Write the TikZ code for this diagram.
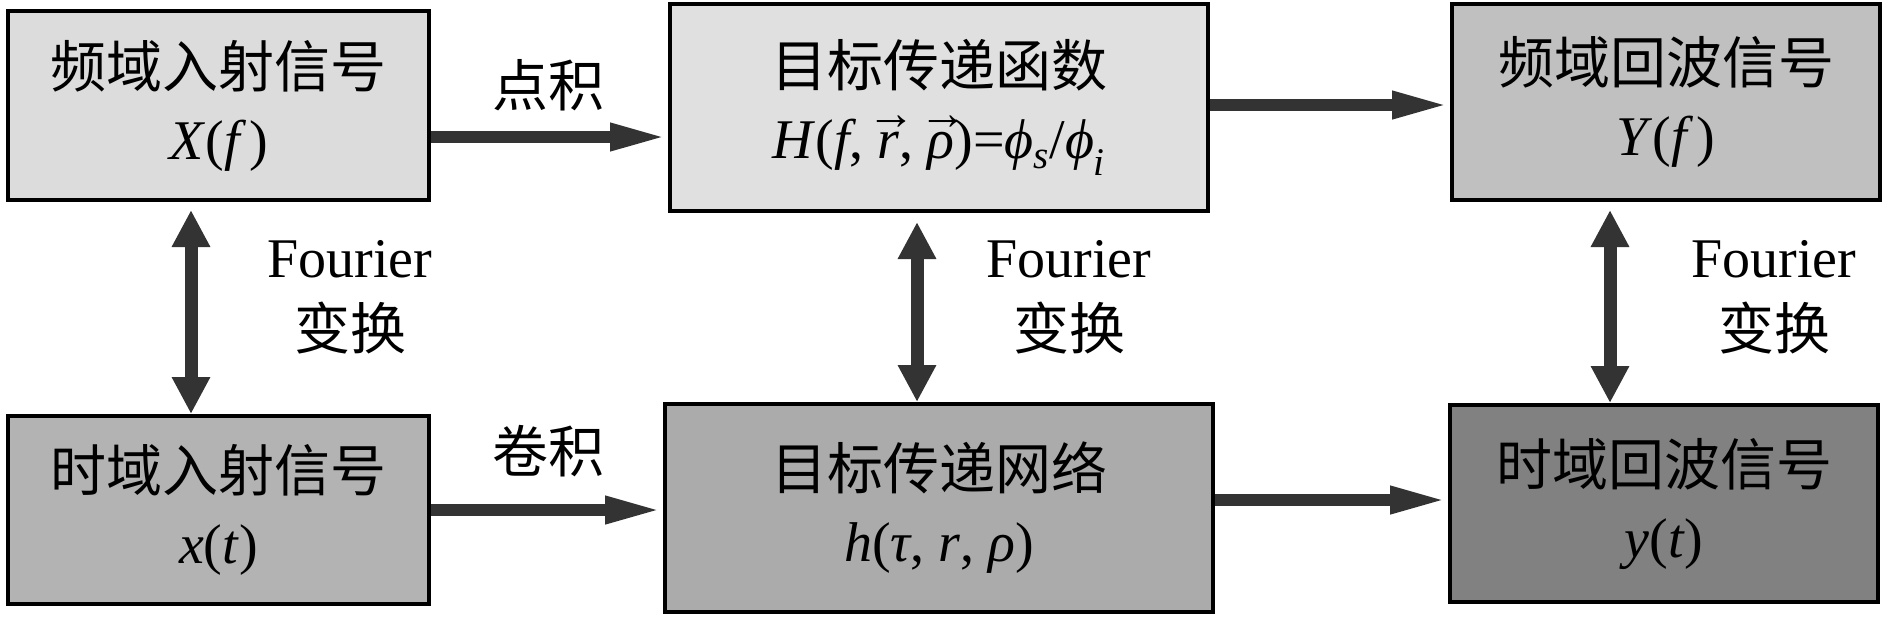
\documentclass[tikz,border=0pt]{standalone}
\usepackage{fontspec}
\setmainfont{Liberation Serif}
\newfontfamily\cjk{Noto Sans CJK SC}
\usetikzlibrary{arrows.meta,calc}
\definecolor{cA}{HTML}{DCDCDC}
\definecolor{cB}{HTML}{E0E0E0}
\definecolor{cC}{HTML}{C0C0C0}
\definecolor{cD}{HTML}{B3B3B3}
\definecolor{cE}{HTML}{ABABAB}
\definecolor{cF}{HTML}{818181}
\definecolor{arrgray}{HTML}{333333}
\newcommand\vecover[1]{\setbox0=\hbox{#1}\rlap{\hbox to \wd0{\hss\kern5pt\raisebox{29pt}[0pt][0pt]{\fontsize{48}{48}\selectfont →}\hss}}\box0}
\begin{document}
\begin{tikzpicture}[x=1pt,y=-1pt,
  box/.style={draw=black, line width=4pt, inner sep=0pt, align=center,
    font=\fontsize{56}{72}\selectfont},
  lbl/.style={inner sep=0pt, align=center, font=\fontsize{56}{72}\selectfont},
  harrow/.style={draw=arrgray, line width=12pt, -{Triangle[length=58pt,width=25pt]}},
  varrow/.style={draw=arrgray, line width=13pt,
    {Triangle[length=37pt,width=36pt]}-{Triangle[length=37pt,width=36pt]}}]
\useasboundingbox (0,0) rectangle (1890,616);

\node[box, fill=cA, minimum width=421pt, minimum height=189pt] (b1) at (218.5,105.5)
  {{\cjk 频域入射信号}\\\textit{X}(\textit{f}\kern3pt)};
\node[box, fill=cB, minimum width=538pt, minimum height=207pt] (b2) at (939,107.5)
  {{\cjk 目标传递函数}\\\textit{H}(\textit{f}, \vecover{\itshape r}, \vecover{\itshape ρ})=\textit{ϕ}\textsubscript{\itshape s}/\textit{ϕ}\textsubscript{\itshape i}};
\node[box, fill=cC, minimum width=428pt, minimum height=196pt] (b3) at (1666,102)
  {{\cjk 频域回波信号}\\\textit{Y}(\textit{f}\kern3pt)};
\node[box, fill=cD, minimum width=421pt, minimum height=188pt] (b4) at (218.5,510)
  {{\cjk 时域入射信号}\\\textit{x}(\textit{t})};
\node[box, fill=cE, minimum width=548pt, minimum height=208pt] (b5) at (939,508)
  {{\cjk 目标传递网络}\\\textit{h}(\textit{τ}, \textit{r}, \textit{ρ})};
\node[box, fill=cF, minimum width=428pt, minimum height=197pt] (b6) at (1664,503.5)
  {{\cjk 时域回波信号}\\\textit{y}(\textit{t})};

\coordinate (p1) at ($(b1.east)+(0,31.5)$);
\draw[harrow] (p1) -- (p1 -| b2.west);
\coordinate (p2) at ($(b2.east)+(0,-2.5)$);
\draw[harrow] (p2) -- (p2 -| b3.west);
\draw[harrow] (b4.east) -- (b4.east -| b5.west);
\coordinate (p4) at ($(b5.east)+(0,-8)$);
\draw[harrow] (p4) -- (p4 -| b6.west);

\coordinate (v1) at ($(b1.south)+(-27.5,8)$);
\draw[varrow] (v1) -- (v1 |- b4.north);
\coordinate (v2) at ($(b2.south)+(-22,9)$);
\draw[varrow] (v2) -- (v2 |- b5.north);
\coordinate (v3) at ($(b3.south)+(-56,8)$);
\draw[varrow] (v3) -- (v3 |- b6.north);

\node[lbl] (l1) at (548,85) {\cjk 点积};
\node[lbl] (l2) at (548,451) {\cjk 卷积};
\node[lbl] (f1) at (350,297) {Fourier\\{\cjk 变换}};
\node[lbl] (f2) at (1069,297) {Fourier\\{\cjk 变换}};
\node[lbl] (f3) at (1774,297) {Fourier\\{\cjk 变换}};
\end{tikzpicture}
\end{document}
